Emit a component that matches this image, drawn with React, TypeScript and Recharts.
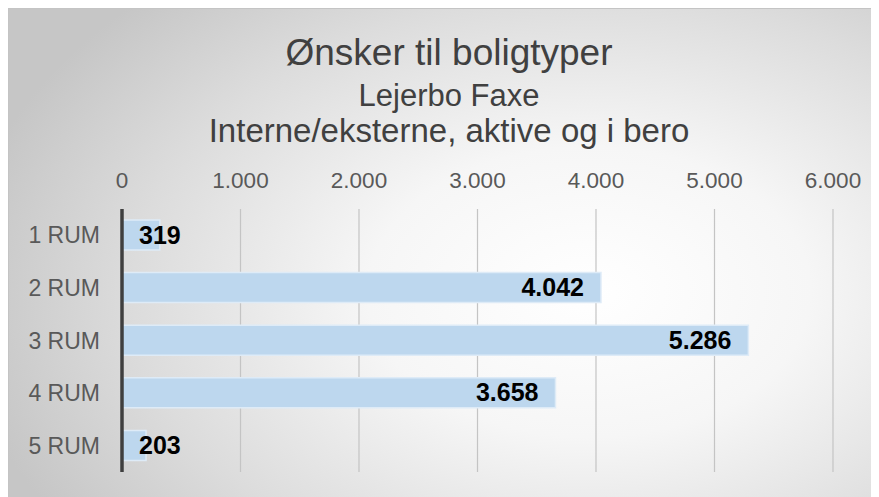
import React from 'react';
import { Bar, BarChart, CartesianGrid, LabelList, XAxis, YAxis } from 'recharts';

const categories = ['1 RUM', '2 RUM', '3 RUM', '4 RUM', '5 RUM'];
const values = [319, 4042, 5286, 3658, 203];
const xTicks = [0, 1000, 2000, 3000, 4000, 5000, 6000];
const titleLines = ['Ønsker til boligtyper', 'Lejerbo Faxe', 'Interne/eksterne, aktive og i bero'];

const data = categories.map((name, i) => ({ name, value: values[i] }));

const FONT = '"Liberation Sans", Arial, sans-serif';
const fmt = (n: number) => String(n).replace(/\B(?=(\d{3})+(?!\d))/g, '.');

function BarLabel(props: any) {
  const { x, y, width, height, value } = props;
  const text = fmt(value);
  const fontSize = 25;
  const textW = text.length * 0.556 * fontSize;
  const inset = 17;
  const fits = width - 2 * inset >= textW;
  return (
    <text
      x={fits ? x + width - inset : x + inset}
      y={y + height / 2}
      dy={fontSize * 0.34}
      textAnchor={fits ? 'end' : 'start'}
      fontSize={fontSize}
      fontWeight="bold"
      fontFamily={FONT}
      fill="#000"
    >
      {text}
    </text>
  );
}

export default function App() {
  return (
    <div
      style={{
        position: 'relative',
        width: 881,
        height: 490,
        boxSizing: 'border-box',
        border: '1px solid #c4c4c4',
        background: 'radial-gradient(ellipse 72% 85% at 66% 58%, #ffffff 0%, #f6f6f6 35%, #dcdcdc 72%, #c6c6c6 100%)',
        fontFamily: FONT,
      }}
    >
      <svg width={879} height={150} style={{ position: 'absolute', left: 0, top: 0 }}>
        <text x={440} y={56} textAnchor="middle" fontSize={37} fill="#404040" fontFamily={FONT}>
          {titleLines[0]}
        </text>
        <text x={440} y={97} textAnchor="middle" fontSize={31} fill="#404040" fontFamily={FONT}>
          {titleLines[1]}
        </text>
        <text x={440} y={133} textAnchor="middle" fontSize={33} fill="#404040" fontFamily={FONT}>
          {titleLines[2]}
        </text>
      </svg>
      <BarChart
        width={879}
        height={488}
        data={data}
        layout="vertical"
        margin={{ top: 160, right: 55, bottom: 25, left: 13 }}
        barSize={30}
        style={{ position: 'absolute', left: 0, top: 0 }}
      >
        <CartesianGrid horizontal={false} stroke="#c4c4c4" strokeWidth={1.2} />
        <XAxis
          type="number"
          orientation="top"
          domain={[0, 6000]}
          ticks={xTicks}
          tickFormatter={fmt}
          axisLine={false}
          tickLine={false}
          tickSize={0}
          tickMargin={21}
          height={40}
          tick={{ fontSize: 22.5, fill: '#595959', fontFamily: FONT }}
        />
        <YAxis
          type="category"
          dataKey="name"
          width={100}
          axisLine={{ stroke: '#3f3f3f', strokeWidth: 3.5 }}
          tickLine={false}
          tickSize={0}
          tickMargin={22}
          tick={{ fontSize: 23, fill: '#595959', fontFamily: FONT }}
        />
        <Bar dataKey="value" fill="#bdd7ee" stroke="#deebf7" strokeWidth={1.5} isAnimationActive={false}>
          <LabelList dataKey="value" content={BarLabel} />
        </Bar>
      </BarChart>
    </div>
  );
}
